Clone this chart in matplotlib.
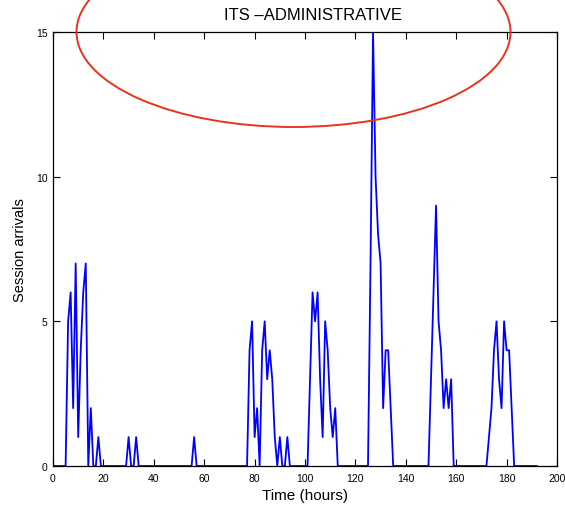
import matplotlib

matplotlib.use("Agg")
import matplotlib.pyplot as plt
from matplotlib.patches import Ellipse

plt.rcParams["font.family"] = ["Liberation Sans", "DejaVu Sans"]

# Hourly session arrivals (only the break points of each burst; zero in between)
hours = [
    0, 5, 6, 7, 8, 9, 10, 11, 12, 13, 14, 15, 16, 17, 18, 19,
    29, 30, 31, 32, 33, 34, 55, 56, 57,
    77, 78, 79, 80, 81, 82, 83, 84, 85, 86, 87, 88, 89, 90, 91, 92, 93, 94,
    101, 102, 103, 104, 105, 106, 107, 108, 109, 110, 111, 112, 113,
    125, 126, 127, 128, 129, 130, 131, 132, 133, 134, 135,
    149, 150, 151, 152, 153, 154, 155, 156, 157, 158, 159,
    172, 173, 174, 175, 176, 177, 178, 179, 180, 181, 182, 183,
    192,
]
arrivals = [
    0, 0, 5, 6, 2, 7, 1, 4, 6, 7, 0, 2, 0, 0, 1, 0,
    0, 1, 0, 0, 1, 0, 0, 1, 0,
    0, 4, 5, 1, 2, 0, 4, 5, 3, 4, 3, 1, 0, 1, 0, 0, 1, 0,
    0, 3, 6, 5, 6, 3, 1, 5, 4, 2, 1, 2, 0,
    0, 7, 15, 10, 8, 7, 2, 4, 4, 2, 0,
    0, 3, 6, 9, 5, 4, 2, 3, 2, 3, 0,
    0, 1, 2, 4, 5, 3, 2, 5, 4, 4, 2, 0,
    0,
]

x_ticks = [0, 20, 40, 60, 80, 100, 120, 140, 160, 180, 200]
y_ticks = [0, 5, 10, 15]

W, H = 565, 510
fig = plt.figure(figsize=(W / 100, H / 100), dpi=100)
ax = fig.add_axes([53 / W, 1 - 467 / H, 504 / W, 434 / H])

ax.plot(hours, arrivals, color="#0000ff", lw=1.3)

ax.set_xlim(0, 200)
ax.set_ylim(0, 15)
ax.set_xticks(x_ticks)
ax.set_yticks(y_ticks)
ax.tick_params(direction="in", length=5, width=0.8, top=True, right=True,
               labelsize=7.5)
ax.tick_params(axis="x", pad=5)
ax.tick_params(axis="y", pad=4)
for s in ax.spines.values():
    s.set_linewidth(0.9)

ax.set_xlabel("Time (hours)", fontsize=11, labelpad=4)
ax.set_ylabel("Session arrivals", fontsize=10.5, labelpad=6)

fig.text(313.5 / W, 1 - 15 / H, "ITS \u2013ADMINISTRATIVE", fontsize=12,
         ha="center", va="center")

# hand-drawn highlight around the title
ring = Ellipse((293.5 / W, 1 - 33 / H), 434 / W, 190 / H,
               transform=fig.transFigure, fill=False, edgecolor="#e8341c",
               lw=1.4, clip_on=False)
fig.add_artist(ring)

fig.savefig("out.png", dpi=100)
